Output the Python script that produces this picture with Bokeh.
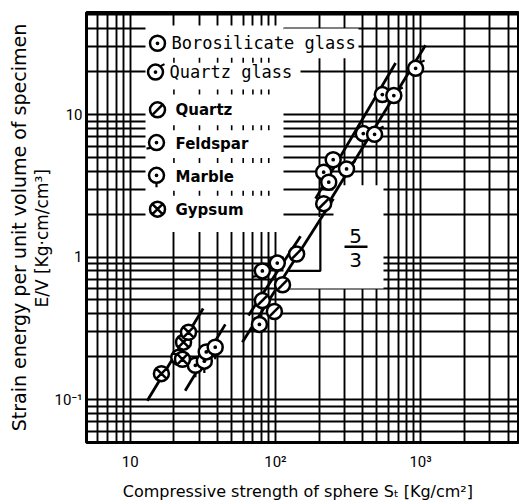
import numpy as np
from bokeh.plotting import figure
from bokeh.models import FixedTicker, Label, Title
from bokeh.embed import file_html
from bokeh.resources import INLINE

# ---------------- data ----------------
boro_x = [215, 233, 250, 403, 545]
boro_y = [3.94, 3.35, 4.82, 7.35, 13.8]
qglass_x = [309, 482, 654, 924]
qglass_y = [4.15, 7.26, 13.6, 21.1]
quartz_x = [81.3, 98.4, 112, 140, 215]
quartz_y = [0.495, 0.415, 0.639, 1.05, 2.37]
feld_x = [77.6, 81.3, 103]
feld_y = [0.337, 0.80, 0.908]
marble_x = [28.1, 32.4, 33.4, 38.5]
marble_y = [0.174, 0.186, 0.216, 0.233]
gyps_x = [16.4, 21.6, 22.9, 23.3, 25.2]
gyps_y = [0.152, 0.198, 0.192, 0.253, 0.297]

# fitted lines (end points)
fit_boro_x = [189, 673];     fit_boro_y = [2.57, 23.0]
fit_qglass_x = [214, 1081];  fit_qglass_y = [2.09, 30.6]
fit_quartz_x = [59.2, 251];  fit_quartz_y = [0.253, 2.57]
fit_feld_x = [65.2, 149];    fit_feld_y = [0.389, 1.40]
fit_marble_x = [23.9, 45.2]; fit_marble_y = [0.1155, 0.337]
fit_gyps_x = [13.1, 31.8];   fit_gyps_y = [0.098, 0.435]

# slope triangle 5/3
tri_x = [123, 204, 204]
tri_y = [0.80, 0.80, 1.81]

legend_labels = ["Borosilicate glass", "Quartz glass", "Quartz", "Feldspar", "Marble", "Gypsum"]

x_major = [10, 100, 1000]
x_major_labels = {10: "10", 100: "10²", 1000: "10³"}
y_major = [0.1, 1, 10]
y_major_labels = {0.1: "10⁻¹", 1: "1", 10: "10"}

x_title = "Compressive strength of sphere  Sₜ  [Kg/cm²]"
y_title_1 = "Strain energy per unit volume of specimen"
y_title_2 = "E/V     [Kg·cm/cm³]"

# ---------------- layout ----------------
W, H = 519, 503
X0, X1 = 5, 4800
Y0, Y1 = 0.05, 52
BL, BR, BT, BB = 86, 0, 12, 58
FL, FT = BL, BT                   # frame origin in page pixels
FW, FH = W - BL - BR, H - BT - BB


def px2x(px):
    return 10 ** (np.log10(X0) + (px - FL) / FW * np.log10(X1 / X0))


def px2y(py):
    return 10 ** (np.log10(Y1) - (py - FT) / FH * np.log10(Y1 / Y0))


def fx(d):
    return 10 ** (d / FW * np.log10(X1 / X0))


def fy(d):
    return 10 ** (d / FH * np.log10(Y1 / Y0))


x_minor = [m * 10 ** e for e in range(0, 4) for m in range(2, 10) if X0 <= m * 10 ** e <= X1]
y_minor = [m * 10 ** e for e in range(-2, 2) for m in range(2, 10) if Y0 <= m * 10 ** e <= Y1]

p = figure(width=W, height=H, x_axis_type="log", y_axis_type="log",
           x_range=(X0, X1), y_range=(Y0, Y1), output_backend="svg",
           toolbar_location=None, min_border_left=BL, min_border_right=BR,
           min_border_top=BT, min_border_bottom=BB)
p.background_fill_color = "white"
p.border_fill_color = "white"
p.outline_line_color = "black"
p.outline_line_width = 3

xt = FixedTicker(ticks=x_major, minor_ticks=x_minor)
yt = FixedTicker(ticks=y_major, minor_ticks=y_minor)
p.xaxis.ticker = xt
p.yaxis.ticker = yt
p.xgrid.ticker = xt
p.ygrid.ticker = yt
p.xaxis.major_label_overrides = x_major_labels
p.yaxis.major_label_overrides = y_major_labels
for ax in p.axis:
    ax.axis_line_color = None
    ax.major_tick_line_color = None
    ax.minor_tick_line_color = None
    ax.major_tick_out = 0
    ax.minor_tick_out = 0
    ax.major_tick_in = 0
    ax.minor_tick_in = 0
    ax.major_label_text_font = "Roboto"
    ax.major_label_text_font_size = "15px"
    ax.major_label_text_color = "black"
p.xaxis.major_label_standoff = 10
p.yaxis.major_label_standoff = 4
p.xaxis.axis_label = x_title
p.xaxis.axis_label_text_font = "DejaVu Sans"
p.xaxis.axis_label_text_font_style = "normal"
p.xaxis.axis_label_text_font_size = "16px"
p.xaxis.axis_label_text_color = "black"
p.xaxis.axis_label_standoff = 8

for g in (p.xgrid, p.ygrid):
    g.grid_line_color = "black"
    g.grid_line_width = 1.9
    g.grid_line_alpha = 1
    g.minor_grid_line_color = "black"
    g.minor_grid_line_width = 1.9
    g.minor_grid_line_alpha = 1

# y titles as side titles (two lines)
p.add_layout(Title(text=y_title_2, align="center", text_font="DejaVu Sans", text_font_size="17px",
                   text_font_style="normal", text_color="black", standoff=0), "left")
p.add_layout(Title(text=y_title_1, align="center", text_font="DejaVu Sans", text_font_size="19px",
                   text_font_style="normal", text_color="black", standoff=0), "left")

# white patches (legend box and slope note)
patches = [(145, 283, 25, 233), (283, 358, 28, 58), (283, 300, 58, 86),
           (283, 383, 218, 290), (333, 383, 186, 218)]
p.quad(left=[px2x(a) for a, b, c, d in patches], right=[px2x(b) for a, b, c, d in patches],
       top=[px2y(c) for a, b, c, d in patches], bottom=[px2y(d) for a, b, c, d in patches],
       fill_color="white", line_color=None)

# remnants of grid ticks inside legend
rows = [60, 92, 128, 161, 194]
tick_x = [v for v in x_minor if 20 <= v <= 90]
sx0, sy0, sy1 = [], [], []
for r in rows:
    for v in tick_x:
        sx0.append(v); sy0.append(px2y(r - 2.5)); sy1.append(px2y(r + 2.5))
p.segment(x0=sx0, y0=sy0, x1=sx0, y1=sy1, line_color="black", line_width=1.6)

# fitted lines
LW = 2.8
for lx, ly in [(fit_boro_x, fit_boro_y), (fit_qglass_x, fit_qglass_y),
               (fit_quartz_x, fit_quartz_y), (fit_feld_x, fit_feld_y),
               (fit_marble_x, fit_marble_y), (fit_gyps_x, fit_gyps_y)]:
    p.line(lx, ly, line_color="black", line_width=LW)
p.line(tri_x, tri_y, line_color="black", line_width=2.2)

MS = 15
MLW = 2.5


def draw(kind, xs, ys):
    xs = np.asarray(xs, float); ys = np.asarray(ys, float)
    if kind == "boro":
        p.scatter(xs, ys, marker="circle_dot", size=MS, fill_color="white", line_color="black", line_width=MLW)
    elif kind == "qglass":
        p.segment(x0=xs * fx(3), y0=ys * fy(5), x1=xs * fx(9), y1=ys * fy(8), line_color="black", line_width=2.2)
        p.scatter(xs, ys, marker="circle_dot", size=MS, fill_color="white", line_color="black", line_width=MLW)
    elif kind == "quartz":
        p.scatter(xs, ys, marker="circle", size=MS, fill_color="white", line_color="black", line_width=MLW)
        p.scatter(xs, ys, marker="dash", size=MS - 2, angle=np.pi / 4, line_color="black", line_width=MLW)
    elif kind == "feld":
        p.segment(x0=xs * fx(-5), y0=ys * fy(-5), x1=xs * fx(-10), y1=ys * fy(-6), line_color="black", line_width=2.2)
        p.scatter(xs, ys, marker="circle_dot", size=MS, fill_color="white", line_color="black", line_width=MLW)
    elif kind == "marble":
        p.segment(x0=xs, y0=ys * fy(-6), x1=xs, y1=ys * fy(-12), line_color="black", line_width=2.2)
        p.scatter(xs, ys, marker="circle_dot", size=MS, fill_color="white", line_color="black", line_width=MLW)
    elif kind == "gyps":
        p.scatter(xs, ys, marker="circle_x", size=MS, fill_color="white", line_color="black", line_width=MLW)


draw("boro", boro_x, boro_y)
draw("qglass", qglass_x, qglass_y)
draw("quartz", quartz_x, quartz_y)
draw("feld", feld_x, feld_y)
draw("marble", marble_x, marble_y)
draw("gyps", gyps_x, gyps_y)

# legend (drawn by hand)
kinds = ["boro", "qglass", "quartz", "feld", "marble", "gyps"]
mk_px = [(157, 43), (155, 72), (157, 110), (156, 143), (156, 176), (157, 210)]
tx_px = [(171, 43), (169, 72), (175, 110), (175, 144), (175, 178), (175, 211)]
for k, (mx, my) in zip(kinds, mk_px):
    draw(k, [px2x(mx)], [px2y(my)])
for i, (lab, (tx, ty)) in enumerate(zip(legend_labels, tx_px)):
    mono = i < 2
    p.add_layout(Label(x=px2x(tx), y=px2y(ty), text=lab, text_align="left", text_baseline="middle",
                       text_font="DejaVu Sans Mono" if mono else "DejaVu Sans",
                       text_font_size="17px" if mono else "15px",
                       text_font_style="normal" if mono else "bold", text_color="black"))

# slope note 5/3
p.add_layout(Label(x=px2x(355), y=px2y(237), text="5", text_align="center", text_baseline="middle",
                   text_font="DejaVu Sans", text_font_size="20px", text_color="black"))
p.add_layout(Label(x=px2x(355), y=px2y(261), text="3", text_align="center", text_baseline="middle",
                   text_font="DejaVu Sans", text_font_size="20px", text_color="black"))
p.segment(x0=[px2x(344)], y0=[px2y(248)], x1=[px2x(367)], y1=[px2y(248)], line_color="black", line_width=2.5)

open("out.html", "w").write(file_html(p, INLINE))
